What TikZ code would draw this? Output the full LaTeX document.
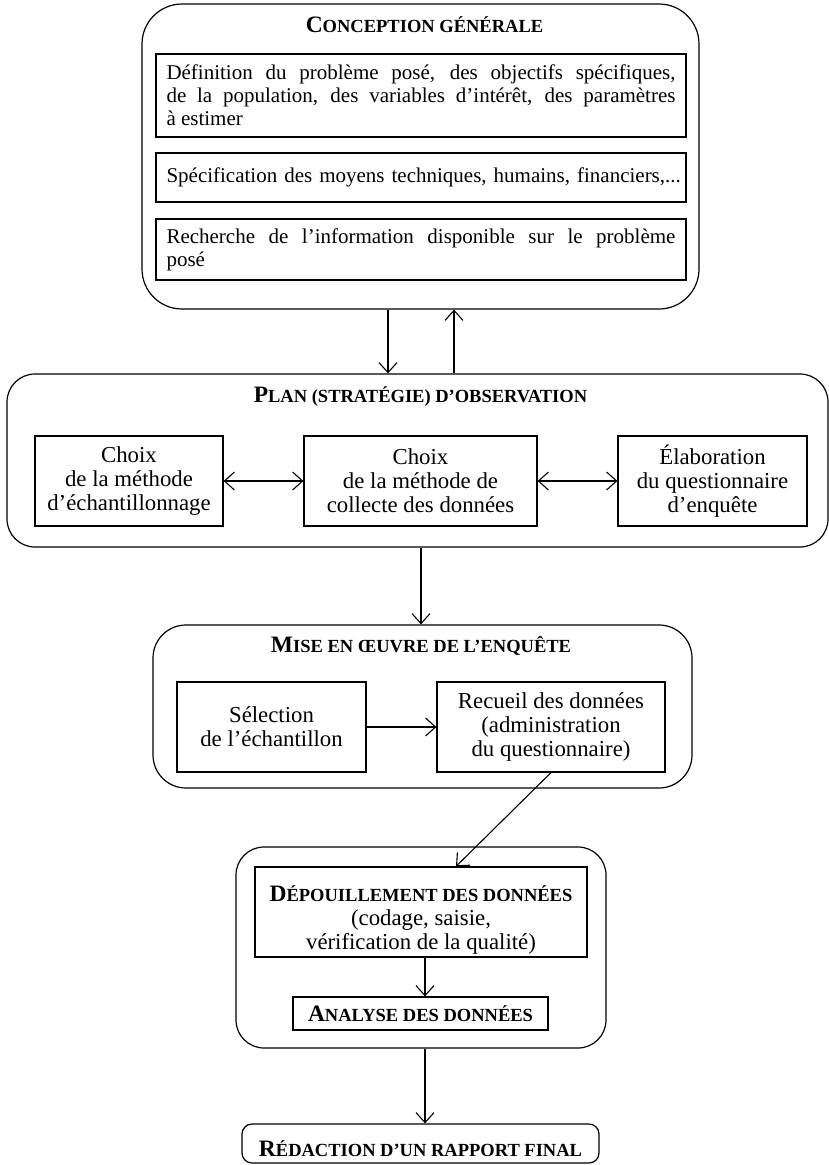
\documentclass[tikz,border=0pt]{standalone}
\usepackage{fontspec}
\setmainfont{Liberation Serif}
\usetikzlibrary{arrows.meta}
\hyphenpenalty=10000
\exhyphenpenalty=10000
\newcommand\tsc[2]{{\fontsize{23.5}{24}\selectfont #1}{\fontsize{18.5}{24}\selectfont #2}}
\begin{document}
\begin{tikzpicture}[x=1pt,y=-1pt,
  rbox/.style={draw, line width=1.2pt, inner sep=0pt, rounded corners=#1},
  ibox/.style={draw, line width=1.2pt, inner sep=0pt, align=center,
    font=\fontsize{22.8}{24}\selectfont},
  ttl/.style={font=\bfseries, anchor=base, inner sep=0pt},
  arr/.style={-{Straight Barb[length=10pt,width=18pt]}, line width=1.1pt},
  biarr/.style={{Straight Barb[length=10pt,width=18pt]}-{Straight Barb[length=10pt,width=18pt]}, line width=1.1pt}]
\useasboundingbox (0,0) rectangle (829,1165);
\fill[white] (0,0) rectangle (829,1165);

% Conception generale
\node[rbox=40pt, minimum width=557pt, minimum height=305pt] (concep) at (420.5,156.5) {};
\node[ttl] (tconcep) at (424.5,32) {\tsc{C}{ONCEPTION GÉNÉRALE}};
\node[ibox, minimum width=530pt, minimum height=83pt, text width=509pt, align=justify,
  font=\fontsize{21}{23}\selectfont] (defn) at (421,95.5)
  {Définition du problème posé, des objectifs spécifiques,\linebreak de la population, des variables d’intérêt, des paramètres\linebreak à estimer};
\node[ibox, minimum width=530pt, minimum height=49pt, text width=509pt, align=left,
  font=\fontsize{21}{23}\selectfont] (moyens) at (421,177.5)
  {\mbox{Spécification des moyens techniques, humains, financiers,...}};
\node[ibox, minimum width=530pt, minimum height=61pt, text width=509pt, align=justify,
  font=\fontsize{21}{23}\selectfont] (info) at (421,249.5)
  {Recherche de l’information disponible sur le problème\linebreak posé};

% Plan
\node[rbox=28pt, minimum width=821pt, minimum height=173pt] (plan) at (417.5,460.5) {};
\node[ttl] (tplan) at (420.5,402) {\tsc{P}{LAN (STRATÉGIE) D’OBSERVATION}};
\node[ibox, minimum width=188pt, minimum height=90pt] (echant) at (129,481)
  {Choix\\de la méthode\\d’échantillonnage};
\node[ibox, minimum width=233pt, minimum height=90pt] (collecte) at (420.5,481)
  {Choix\\de la méthode de\\collecte des données};
\node[ibox, minimum width=189pt, minimum height=90pt] (quest) at (712.5,481)
  {Élaboration\\du questionnaire\\d’enquête};

\coordinate (dnx) at (388,0);
\coordinate (upx) at (454,0);
\draw[arr] (concep.south -| dnx) -- (plan.north -| dnx);
\draw[arr] (plan.north -| upx) -- (concep.south -| upx);
\draw[biarr] (echant) -- (collecte);
\draw[biarr] (collecte) -- (quest);

% Mise en oeuvre
\node[rbox=33pt, minimum width=539pt, minimum height=163pt] (mise) at (422.5,706.5) {};
\node[ttl] (tmise) at (421,652) {\tsc{M}{ISE EN ŒUVRE DE L’ENQUÊTE}};
\node[ibox, minimum width=189pt, minimum height=90pt] (sel) at (271.5,727)
  {Sélection\\de l’échantillon};
\node[ibox, minimum width=228pt, minimum height=90pt] (rec) at (551,727)
  {Recueil des données\\(administration\\du questionnaire)};

\coordinate (mx) at (421,0);
\draw[arr] (plan.south -| mx) -- (mise.north -| mx);
\draw[arr] (sel) -- (rec);

% Depouillement
\node[rbox=28pt, minimum width=370pt, minimum height=201pt] (depout) at (421,947.5) {};
\node[ibox, minimum width=332pt, minimum height=90pt] (depin) at (421,912)
  {\rule{0pt}{31pt}\textbf{\tsc{D}{ÉPOUILLEMENT DES DONNÉES}}\\(codage, saisie,\\vérification de la qualité)};
\node[ibox, minimum width=255pt, minimum height=33pt] (analyse) at (420.5,1013.5)
  {\textbf{\tsc{A}{NALYSE DES DONNÉES}}};
\draw[arr] (rec.south) -- ([xshift=35pt]depin.north);

\coordinate (lx) at (425,0);
\draw[arr] (depin.south -| lx) -- (analyse.north -| lx);

% Redaction
\node[rbox=10pt, minimum width=357pt, minimum height=39pt, font=\fontsize{22.8}{24}\selectfont] (redac) at (420.5,1143.5)
  {\rule{0pt}{27pt}\textbf{\tsc{R}{ÉDACTION D’UN RAPPORT FINAL}}};
\draw[arr] (depout.south -| lx) -- (redac.north -| lx);
\end{tikzpicture}
\end{document}
